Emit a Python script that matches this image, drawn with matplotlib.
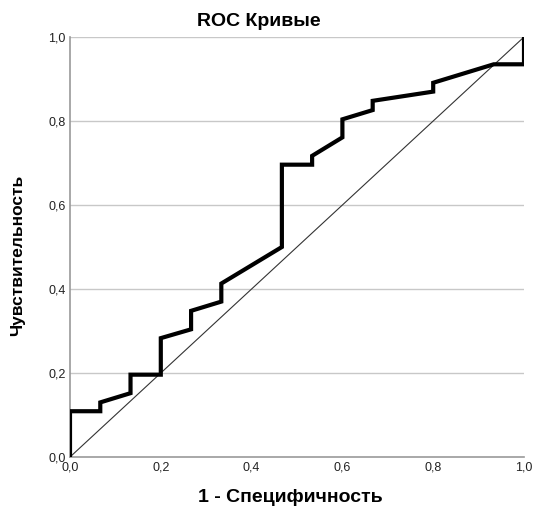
import matplotlib
matplotlib.use("Agg")
import matplotlib.pyplot as plt

plt.rcParams["font.family"] = ["Liberation Sans", "DejaVu Sans"]

# ROC curve points (1 - specificity, sensitivity)
fpr = [0.0, 0.0, 0.0667, 0.0667, 0.1333, 0.1333, 0.2, 0.2, 0.2667, 0.2667,
       0.3333, 0.3333, 0.4667, 0.4667, 0.5333, 0.5333, 0.6, 0.6, 0.6667,
       0.6667, 0.8, 0.8, 0.9333, 1.0, 1.0]
tpr = [0.0, 0.109, 0.109, 0.130, 0.152, 0.196, 0.196, 0.283, 0.304, 0.348,
       0.370, 0.413, 0.5, 0.696, 0.696, 0.717, 0.761, 0.804, 0.826,
       0.848, 0.870, 0.891, 0.935, 0.935, 1.0]
ticks = [0.0, 0.2, 0.4, 0.6, 0.8, 1.0]
tick_labels = ["0,0", "0,2", "0,4", "0,6", "0,8", "1,0"]

fig = plt.figure(figsize=(5.36, 5.11), dpi=100)
ax = fig.add_axes([70 / 536, 54 / 511, 454 / 536, 420 / 511])

for t in ticks[1:]:
    ax.axhline(t, color="#c8c8c8", lw=1.0, zorder=0)
ax.plot([0, 1], [0, 1], color="#333333", lw=0.8, zorder=2)
ax.plot(fpr, tpr, color="black", lw=3, solid_joinstyle="miter", zorder=3)

ax.set_xlim(0, 1)
ax.set_ylim(0, 1)
ax.set_xticks(ticks)
ax.set_xticklabels(tick_labels)
ax.set_yticks(ticks)
ax.set_yticklabels(tick_labels)
ax.tick_params(length=0, labelsize=9, colors="#222222", pad=3)
for s in ["top", "right"]:
    ax.spines[s].set_visible(False)
for s in ["left", "bottom"]:
    ax.spines[s].set_color("#999999")
    ax.spines[s].set_linewidth(1.2)

fig.text(259 / 536, 1 - 21 / 511, "ROC Кривые", ha="center", va="center",
         fontsize=14, fontweight="bold")
fig.text(290 / 536, 1 - 497 / 511, "1 - Специфичность", ha="center",
         va="center", fontsize=14, fontweight="bold")
fig.text(18 / 536, 1 - 255 / 511, "Чувствительность", ha="center",
         va="center", rotation=90, fontsize=12.5, fontweight="bold")

fig.savefig("out.png", dpi=100, facecolor="white")
